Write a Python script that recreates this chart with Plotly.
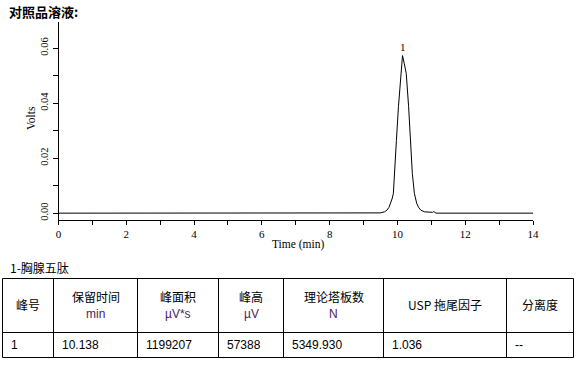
import plotly.graph_objects as go

W, H = 580, 369

# ---- chromatogram data ----
times = [0.0, 9.49, 9.62, 9.69, 9.75, 9.80, 9.85, 9.88, 9.92, 9.97, 10.03, 10.10, 10.15,
         10.20, 10.26, 10.33, 10.38, 10.44, 10.50, 10.54, 10.57, 10.63, 10.69, 10.80,
         10.95, 11.04, 11.07, 11.10, 11.14, 14.0]
volts = [0.0, 0.0001, 0.0005, 0.0011, 0.0021, 0.0035, 0.0055, 0.0072, 0.0144, 0.0265,
         0.0387, 0.0508, 0.0573, 0.0545, 0.0508, 0.0387, 0.0265, 0.0144, 0.0072, 0.0050,
         0.0035, 0.0020, 0.0011, 0.0005, 0.0004, 0.0003, 0.0006, 0.0002, 0.0, 0.0]
peak_labels = ["1"]
peak_times = [10.15]
peak_heights = [0.0573]

# ---- table data ----
title_text = "对照品溶液:"
table_title = "1-胸腺五肽"
headers = ["峰号", "保留时间", "峰面积", "峰高", "理论塔板数", "USP 拖尾因子", "分离度"]
units = ["", "min", "µV*s", "µV", "N", "", ""]
row_values = ["1", "10.138", "1199207", "57388", "5349.930", "1.036", "--"]

# ---- layout geometry (pixels) ----
col_edges = [2.5, 53.5, 137.5, 218.5, 283.5, 383.5, 506.5, 573.5]
row_edges = [278.5, 332.5, 357.5]


def px(x):
    return x / W


def py(y):
    return 1 - y / H


fig = go.Figure()
fig.add_trace(go.Scatter(x=times, y=volts, mode="lines",
                         line=dict(color="black", width=1), hoverinfo="skip",
                         showlegend=False))

serif = "Liberation Serif, Times New Roman, serif"
sans = "Liberation Sans, Arial, sans-serif"
cjk = "Noto Sans CJK SC, sans-serif"


def note(x, y, text, font, xanchor="center", yanchor="middle", **kw):
    return dict(x=px(x), y=py(y), xref="paper", yref="paper", text=text, showarrow=False,
                xanchor=xanchor, yanchor=yanchor, font=font, **kw)


annotations = []
for lbl, t, h in zip(peak_labels, peak_times, peak_heights):
    annotations.append(dict(x=t, y=h, xref="x", yref="y", text=lbl, showarrow=False,
                            xanchor="center", yanchor="bottom", yshift=1,
                            font=dict(family=serif, size=11, color="black")))

annotations.append(note(31, 118, "Volts", dict(family=serif, size=11.5, color="black"),
                        textangle=-90))
annotations.append(note(298, 245, "Time (min)", dict(family=serif, size=11.5, color="black")))
annotations.append(note(7, 11, "<b>" + title_text + "</b>",
                        dict(family=cjk, size=13, color="black"), xanchor="left"))
annotations.append(note(8, 267, table_title, dict(family=cjk, size=12, color="black"),
                        xanchor="left"))

shapes = []
for xe in col_edges:
    shapes.append(dict(type="line", xref="paper", yref="paper", x0=px(xe), x1=px(xe),
                       y0=py(row_edges[0]), y1=py(row_edges[-1]),
                       line=dict(color="black", width=1)))
for ye in row_edges:
    shapes.append(dict(type="line", xref="paper", yref="paper", x0=px(col_edges[0]),
                       x1=px(col_edges[-1]), y0=py(ye), y1=py(ye),
                       line=dict(color="black", width=1)))
# small extension of the y axis line below the x axis
shapes.append(dict(type="line", xref="paper", yref="paper", x0=px(58.5), x1=px(58.5),
                   y0=py(219), y1=py(224), line=dict(color="black", width=1)))

for i, (hd, un, val) in enumerate(zip(headers, units, row_values)):
    cx = (col_edges[i] + col_edges[i + 1]) / 2
    if un:
        annotations.append(note(cx, 296, hd, dict(family=cjk, size=12, color="black")))
        annotations.append(note(cx, 314, un, dict(family=sans, size=12, color="#4a1f5c")))
    else:
        annotations.append(note(cx, 304, hd, dict(family=cjk, size=12, color="black")))
    annotations.append(note(col_edges[i] + 6, 345, val,
                            dict(family=sans, size=12, color="black"), xanchor="left"))

fig.update_layout(
    template="none",
    width=W, height=H, autosize=False,
    margin=dict(l=0, r=0, t=0, b=0, pad=0),
    paper_bgcolor="white", plot_bgcolor="white",
    xaxis=dict(domain=[px(58.5), px(533)], range=[0, 14], dtick=2, tick0=0,
               automargin=False,
               showline=True, linecolor="black", linewidth=1, mirror=False,
               ticks="outside", ticklen=4, tickcolor="black", tickwidth=1,
               minor=dict(dtick=1, ticks="outside", ticklen=4, tickcolor="black"),
               showgrid=False, zeroline=False,
               tickfont=dict(family=serif, size=11, color="black")),
    yaxis=dict(domain=[py(219.5), py(22)], range=[-0.0023, 0.0695], dtick=0.02, tick0=0,
               automargin=False,
               tickformat=".2f", tickangle=-90,
               showline=True, linecolor="black", linewidth=1,
               ticks="outside", ticklen=5, tickcolor="black", tickwidth=1,
               minor=dict(dtick=0.01, ticks="outside", ticklen=5, tickcolor="black"),
               showgrid=False, zeroline=False,
               tickfont=dict(family=serif, size=10.5, color="black")),
    annotations=annotations,
    shapes=shapes,
)

fig.write_html("out.html")
